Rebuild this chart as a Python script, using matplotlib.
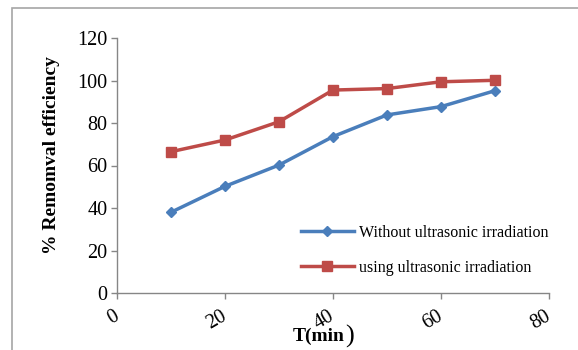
import matplotlib.pyplot as plt
from matplotlib.patches import Rectangle
from matplotlib.transforms import ScaledTranslation

# time (min) and removal efficiency (%)
time_min = [10, 20, 30, 40, 50, 60, 70]
without_us = [38.0, 50.2, 60.2, 73.6, 83.8, 87.7, 95.2]
with_us = [66.5, 72.0, 80.6, 95.5, 96.2, 99.4, 100.1]
x_ticks = [0, 20, 40, 60, 80]
y_ticks = [0, 20, 40, 60, 80, 100, 120]

plt.rcParams['font.family'] = ['Liberation Serif', 'DejaVu Serif']

fig = plt.figure(figsize=(5.78, 3.5), dpi=100)
ax = fig.add_axes([117/578, 1 - 293/350, (549 - 117)/578, (293 - 38)/350])

# outer chart border
fig.patches.append(Rectangle((12/578, -0.1), 1.0, 1 - 8/350 + 0.1,
                             transform=fig.transFigure, fill=False,
                             edgecolor='#a6a6a6', linewidth=1.2))

ax.plot(time_min, without_us, color='#4a7ebb', marker='D', markersize=5,
        linewidth=2.5, label='Without ultrasonic irradiation')
ax.plot(time_min, with_us, color='#be4b48', marker='s', markersize=6.5,
        linewidth=2.5, label='using ultrasonic irradiation')

ax.set_xlim(0, 80)
ax.set_ylim(0, 120)
ax.set_xticks(x_ticks)
ax.set_yticks(y_ticks)
ax.set_xticklabels([str(v) for v in x_ticks], rotation=30, ha='right', va='top')
ax.tick_params(labelsize=14.5, length=4, color='#868686', width=1)
ax.tick_params(axis='x', pad=6)
ax.tick_params(axis='y', pad=3)
shift = ScaledTranslation(5/100, 0, fig.dpi_scale_trans)
for lbl in ax.get_xticklabels():
    lbl.set_transform(lbl.get_transform() + shift)

for side in ['top', 'right']:
    ax.spines[side].set_visible(False)
for side in ['left', 'bottom']:
    ax.spines[side].set_color('#868686')
    ax.spines[side].set_linewidth(1)

ax.set_ylabel('% Remomval efficiency', fontsize=14, fontweight='bold')
ax.yaxis.set_label_coords(-0.132, 0.54)
fig.text(345/578, 1 - 341/350, 'T(min', fontsize=14, fontweight='bold',
         ha='right', va='baseline')
fig.text(345/578, 1 - 343/350, ')', fontsize=19, ha='left', va='baseline')

leg = ax.legend(loc='lower right', bbox_to_anchor=(1.031, 0.01), frameon=False,
                fontsize=11.5, handlelength=3.3, labelspacing=1.2,
                handletextpad=0.3)

fig.savefig('out.png', dpi=100)
